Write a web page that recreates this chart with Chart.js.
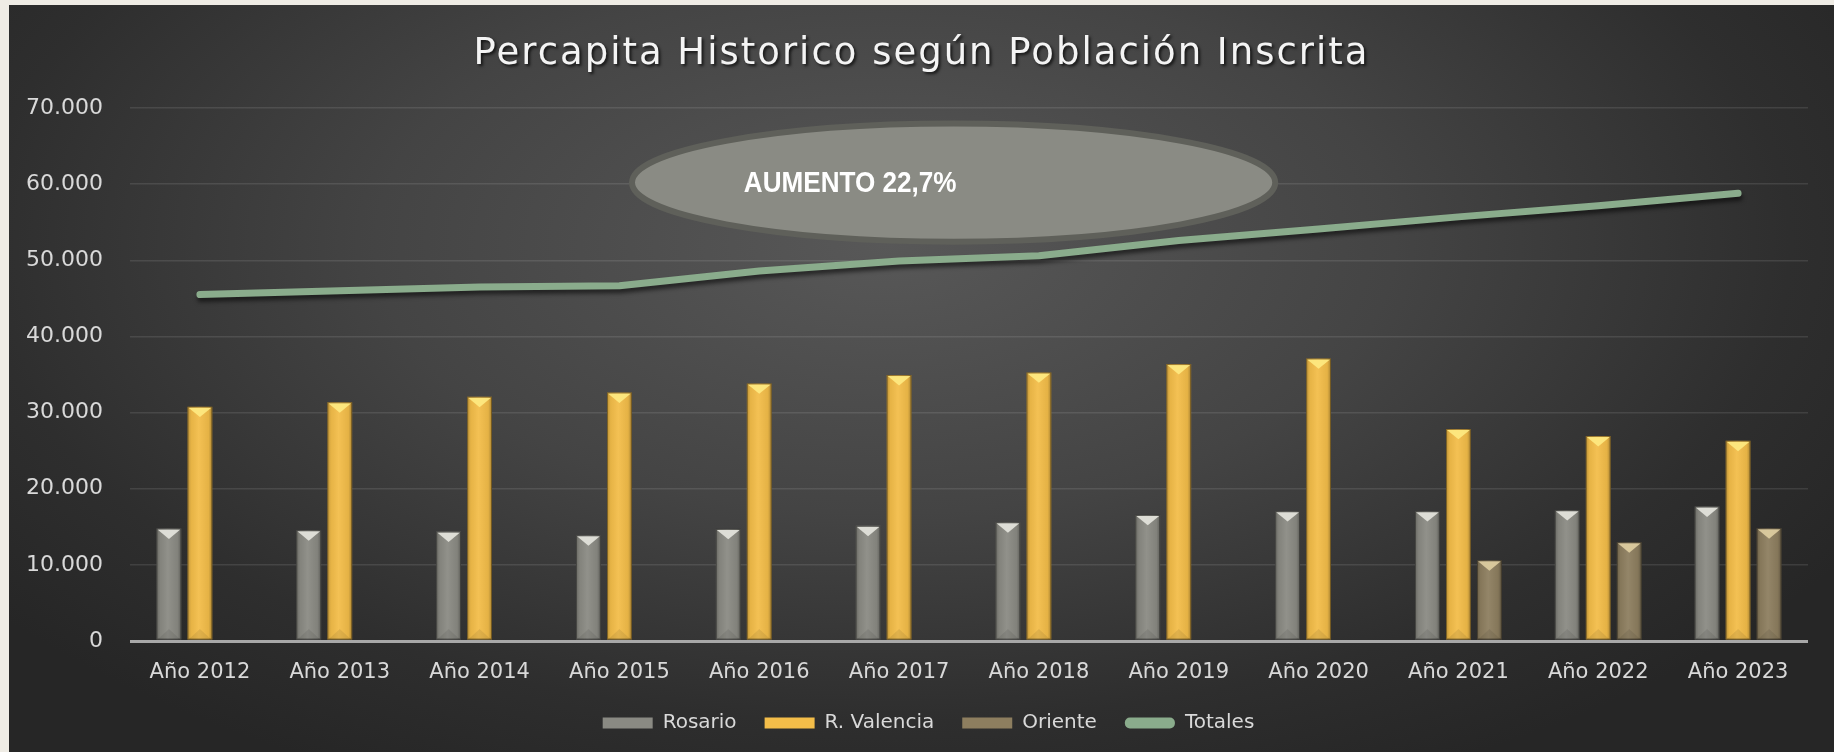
<!DOCTYPE html>
<html>
<head>
<meta charset="utf-8">
<title>Percapita Historico</title>
<script src="https://cdn.jsdelivr.net/npm/chart.js@4.4.1/dist/chart.umd.min.js"></script>
<style>
  html, body { margin: 0; padding: 0; background: #efece5; overflow: hidden; }
  #panel {
    position: absolute; left: 9px; top: 5px; width: 1825px; height: 747px;
    background: radial-gradient(ellipse 62% 80% at 48% 32%, #585858 0%, #444444 45%, #2e2e2e 80%, #262626 100%);
  }
</style>
</head>
<body>
<div id="panel"><canvas id="percapitaChart"></canvas></div>
<script>
// data
const years = ['Año 2012', 'Año 2013', 'Año 2014', 'Año 2015', 'Año 2016', 'Año 2017',
               'Año 2018', 'Año 2019', 'Año 2020', 'Año 2021', 'Año 2022', 'Año 2023'];
const rosario  = [14770, 14550, 14370, 13890, 14720, 15120, 15600, 16560, 17050, 17050, 17180, 17660];
const valencia = [30780, 31350, 32080, 32640, 33830, 34930, 35270, 36370, 37110, 27850, 26920, 26300];
const oriente  = [null, null, null, null, null, null, null, null, null, 10610, 12970, 14810];
const totales  = [45500, 46000, 46500, 46650, 48600, 49900, 50600, 52600, 54100, 55700, 57150, 58800];
const yTicks   = [0, 10000, 20000, 30000, 40000, 50000, 60000, 70000];

const chartTitle = 'Percapita Historico según Población Inscrita';
const noteText = 'AUMENTO 22,7%';

// bar top highlights, per bar dataset
const bevelColors = ['#e2e2da', '#fde880', '#dccb9f'];

function formatMiles(v) {
  return v === 0 ? '0' : String(v).replace(/\B(?=(\d{3})+(?!\d))/g, '.');
}

Chart.defaults.font.family = "'DejaVu Sans', sans-serif";
Chart.defaults.color = '#d9d9d9';

// title with spacing and shadow (drawn by hand, chart.js title can't letter-space)
const titlePlugin = {
  id: 'spacedTitle',
  afterDraw(chart) {
    const ctx = chart.ctx;
    ctx.save();
    ctx.font = "37px 'DejaVu Sans'";
    ctx.letterSpacing = '2px';
    ctx.textAlign = 'center';
    ctx.textBaseline = 'alphabetic';
    ctx.shadowColor = 'rgba(0,0,0,0.7)';
    ctx.shadowOffsetX = 2;
    ctx.shadowOffsetY = 2;
    ctx.shadowBlur = 3;
    ctx.fillStyle = '#f4f4f4';
    ctx.fillText(chartTitle, chart.width / 2, 59);
    ctx.restore();
  }
};

// legend sits a bit right of the canvas centre in the original
const legendShift = {
  id: 'legendShift',
  afterLayout(chart) {
    if (!chart.legend) return;
    chart.legend.left += 20;
    chart.legend.right += 20;
  }
};

// bevel look on the bars
const bevelPlugin = {
  id: 'bevelBars',
  afterDatasetDraw(chart, args) {
    if (args.index > 2) return;
    const ctx = chart.ctx;
    const meta = args.meta;
    ctx.save();
    meta.data.forEach((bar, i) => {
      if (chart.data.datasets[args.index].data[i] == null) return;
      const p = bar.getProps(['x', 'y', 'base', 'width'], true);
      const left = p.x - p.width / 2, right = p.x + p.width / 2;
      const top = p.y, bottom = p.base;
      // side shading
      const g = ctx.createLinearGradient(left, 0, right, 0);
      g.addColorStop(0, 'rgba(0,0,0,0.22)');
      g.addColorStop(0.15, 'rgba(0,0,0,0.05)');
      g.addColorStop(0.45, 'rgba(255,255,255,0.06)');
      g.addColorStop(0.85, 'rgba(0,0,0,0.06)');
      g.addColorStop(1, 'rgba(0,0,0,0.3)');
      ctx.fillStyle = g;
      ctx.fillRect(left, top, p.width, bottom - top);
      // top facet
      const h = p.width * 0.42;
      ctx.beginPath();
      ctx.moveTo(left + 1, top + 1);
      ctx.lineTo(right - 1, top + 1);
      ctx.lineTo(p.x, top + h);
      ctx.closePath();
      ctx.fillStyle = bevelColors[args.index];
      ctx.globalAlpha = 0.95;
      ctx.fill();
      // bottom facet, faint
      ctx.beginPath();
      ctx.moveTo(left + 1, bottom);
      ctx.lineTo(right - 1, bottom);
      ctx.lineTo(p.x, bottom - h);
      ctx.closePath();
      ctx.fillStyle = 'rgba(0,0,0,0.08)';
      ctx.globalAlpha = 1;
      ctx.fill();
      ctx.strokeStyle = 'rgba(0,0,0,0.35)';
      ctx.lineWidth = 1;
      ctx.strokeRect(left + 0.5, top + 0.5, p.width - 1, bottom - top - 1);
    });
    ctx.restore();
  }
};

// shadow under the totals line
const lineShadowPlugin = {
  id: 'lineShadow',
  beforeDatasetDraw(chart, args) {
    if (args.index !== 3) return;
    const ctx = chart.ctx;
    ctx.save();
    ctx.shadowColor = 'rgba(0,0,0,0.55)';
    ctx.shadowOffsetY = 4;
    ctx.shadowOffsetX = 1;
    ctx.shadowBlur = 4;
  },
  afterDatasetDraw(chart, args) {
    if (args.index !== 3) return;
    chart.ctx.restore();
  }
};

// the "AUMENTO" ellipse note
const notePlugin = {
  id: 'noteEllipse',
  afterDatasetsDraw(chart) {
    const ctx = chart.ctx;
    const x = chart.scales.x, y = chart.scales.y;
    const step = x.getPixelForValue(1) - x.getPixelForValue(0);
    const cx = x.getPixelForValue(5.39);
    const cy = y.getPixelForValue(60200);
    const rx = step * 2.3;
    const ry = y.getPixelForValue(0) - y.getPixelForValue(7750);
    ctx.save();
    ctx.beginPath();
    ctx.ellipse(cx, cy, rx, ry, 0, 0, Math.PI * 2);
    ctx.fillStyle = '#8a8b84';
    ctx.fill();
    ctx.lineWidth = 6;
    ctx.strokeStyle = '#5f605a';
    ctx.stroke();
    ctx.font = "bold 30px 'Liberation Sans'";
    ctx.fillStyle = '#ffffff';
    ctx.textAlign = 'center';
    ctx.textBaseline = 'middle';
    ctx.translate(cx - step * 0.74, cy + 1);
    ctx.scale(0.87, 1);
    ctx.fillText(noteText, 0, 0);
    ctx.restore();
  }
};

const chart = new Chart(document.getElementById('percapitaChart'), {
  type: 'bar',
  data: {
    labels: years,
    datasets: [
      {
        label: 'Rosario',
        data: rosario,
        backgroundColor: '#8a8a83',
        categoryPercentage: 0.665,
        barPercentage: 0.8
      },
      {
        label: 'R. Valencia',
        data: valencia,
        backgroundColor: '#f3bd49',
        categoryPercentage: 0.665,
        barPercentage: 0.8
      },
      {
        label: 'Oriente',
        data: oriente,
        backgroundColor: '#8d7e5f',
        categoryPercentage: 0.665,
        barPercentage: 0.8
      },
      {
        label: 'Totales',
        type: 'line',
        data: totales,
        borderColor: '#8aac8c',
        backgroundColor: '#8aac8c',
        borderWidth: 7,
        borderCapStyle: 'round',
        borderJoinStyle: 'round',
        pointRadius: 0,
        tension: 0
      }
    ]
  },
  options: {
    responsive: true,
    maintainAspectRatio: false,
    animation: false,
    layout: { padding: { top: 103, right: 26, bottom: 9, left: 0 } },
    plugins: {
      title: { display: false },
      tooltip: { enabled: false },
      legend: {
        position: 'bottom',
        labels: {
          color: '#d9d9d9',
          font: { size: 20 },
          boxWidth: 50,
          boxHeight: 11,
          padding: 28,
          useBorderRadius: true,
          generateLabels(ch) {
            const items = Chart.defaults.plugins.legend.labels.generateLabels(ch);
            items.forEach((it, i) => {
              it.lineWidth = 0;
              it.strokeStyle = 'transparent';
              it.borderRadius = i === 3 ? 5 : 0;
            });
            return items;
          }
        }
      }
    },
    scales: {
      x: {
        grid: { display: false, drawTicks: false },
        border: { display: false },
        ticks: { font: { size: 21 }, color: '#d9d9d9', padding: 19 },
        afterFit(scale) { scale.height = 44; }
      },
      y: {
        min: 0,
        max: 70000,
        afterBuildTicks(scale) { scale.ticks = yTicks.map(v => ({ value: v })); },
        grid: {
          drawTicks: false,
          color: (c) => c.tick && c.tick.value === 0 ? '#a8a8a8' : 'rgba(255,255,255,0.1)',
          lineWidth: (c) => c.tick && c.tick.value === 0 ? 3 : 1.5
        },
        border: { display: false },
        ticks: {
          font: { size: 22 },
          color: '#d9d9d9',
          padding: 27,
          callback: (v) => formatMiles(v)
        },
        afterFit(scale) { scale.width = 121; }
      }
    }
  },
  plugins: [lineShadowPlugin, bevelPlugin, notePlugin, titlePlugin, legendShift]
});
</script>
</body>
</html>
